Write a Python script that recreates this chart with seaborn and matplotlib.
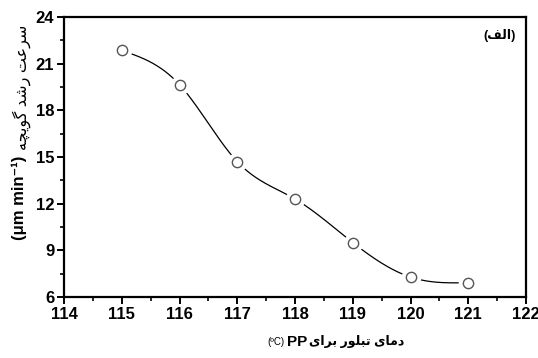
import numpy as np
import pandas as pd
import matplotlib
matplotlib.use("Agg")
import matplotlib.pyplot as plt
import seaborn as sns
from matplotlib.ticker import MultipleLocator

# ---- data ----
temps = [115, 116, 117, 118, 119, 120, 121]
rates = [21.85, 19.65, 14.7, 12.3, 9.5, 7.28, 6.92]
x_ticks = [114, 115, 116, 117, 118, 119, 120, 121, 122]
y_ticks = [6, 9, 12, 15, 18, 21, 24]

ylabel_fa = "سرعت رشد گویچه"
ylabel_unit = "(μm min⁻¹)"
xlabel_fa = "دمای تبلور برای"
xlabel_pp = "PP"
xlabel_unit = "(ºC)"
panel_fa = "الف"

# ---- minimal Persian shaping (presentation forms, visual order) ----
FORMS = {
    'ا': ('\uFE8D', '\uFE8E', None, None),
    'ب': ('\uFE8F', '\uFE90', '\uFE91', '\uFE92'),
    'ت': ('\uFE95', '\uFE96', '\uFE97', '\uFE98'),
    'د': ('\uFEA9', '\uFEAA', None, None),
    'ر': ('\uFEAD', '\uFEAE', None, None),
    'س': ('\uFEB1', '\uFEB2', '\uFEB3', '\uFEB4'),
    'ش': ('\uFEB5', '\uFEB6', '\uFEB7', '\uFEB8'),
    'ع': ('\uFEC9', '\uFECA', '\uFECB', '\uFECC'),
    'ف': ('\uFED1', '\uFED2', '\uFED3', '\uFED4'),
    'ل': ('\uFEDD', '\uFEDE', '\uFEDF', '\uFEE0'),
    'م': ('\uFEE1', '\uFEE2', '\uFEE3', '\uFEE4'),
    'ه': ('\uFEE9', '\uFEEA', '\uFEEB', '\uFEEC'),
    'و': ('\uFEED', '\uFEEE', None, None),
    'ی': ('\uFBFC', '\uFBFD', '\uFBFE', '\uFBFF'),
    'گ': ('\uFB92', '\uFB93', '\uFB94', '\uFB95'),
    'چ': ('\uFB7A', '\uFB7B', '\uFB7C', '\uFB7D'),
}


def shape(s):
    out = []
    for i, c in enumerate(s):
        if c not in FORMS:
            out.append(c)
            continue
        prev = s[i - 1] if i > 0 else None
        nxt = s[i + 1] if i + 1 < len(s) else None
        jp = prev in FORMS and FORMS[prev][2] is not None
        jn = FORMS[c][2] is not None and nxt in FORMS
        iso, fin, ini, med = FORMS[c]
        if jp and jn:
            out.append(med)
        elif jp:
            out.append(fin)
        elif jn:
            out.append(ini)
        else:
            out.append(iso)
    return ''.join(reversed(out))


# ---- natural cubic spline through the data (smooth connecting curve) ----
def natural_spline(x, y, num=400):
    x = np.asarray(x, float)
    y = np.asarray(y, float)
    n = len(x)
    h = np.diff(x)
    A = np.zeros((n, n))
    b = np.zeros(n)
    A[0, 0] = A[-1, -1] = 1
    for i in range(1, n - 1):
        A[i, i - 1] = h[i - 1]
        A[i, i] = 2 * (h[i - 1] + h[i])
        A[i, i + 1] = h[i]
        b[i] = 6 * ((y[i + 1] - y[i]) / h[i] - (y[i] - y[i - 1]) / h[i - 1])
    M = np.linalg.solve(A, b)
    xs = np.linspace(x[0], x[-1], num)
    idx = np.clip(np.searchsorted(x, xs) - 1, 0, n - 2)
    x0, x1 = x[idx], x[idx + 1]
    hh = x1 - x0
    t0 = x1 - xs
    t1 = xs - x0
    ys = (M[idx] * t0 ** 3 + M[idx + 1] * t1 ** 3) / (6 * hh) \
        + (y[idx] / hh - M[idx] * hh / 6) * t0 \
        + (y[idx + 1] / hh - M[idx + 1] * hh / 6) * t1
    return xs, ys


sns.set_theme(style="white")
plt.rcParams['font.family'] = ['Liberation Sans', 'DejaVu Sans']

fig = plt.figure(figsize=(5.38, 3.58), dpi=100)
ax = fig.add_axes([64 / 538, 1 - 297 / 358, (526 - 64) / 538, (297 - 17) / 358])

xs, ys = natural_spline(temps, rates)
curve = pd.DataFrame({"T": xs, "G": ys})
pts = pd.DataFrame({"T": temps, "G": rates})

sns.lineplot(data=curve, x="T", y="G", ax=ax, color="black", linewidth=0.9, zorder=2)
# white halo around markers to create the gaps
sns.scatterplot(data=pts, x="T", y="G", ax=ax, s=200, color="white",
                edgecolor="white", linewidth=0, zorder=3)
sns.scatterplot(data=pts, x="T", y="G", ax=ax, s=55, color="white",
                edgecolor="#555555", linewidth=1.0, zorder=4)

ax.set_xlim(114, 122)
ax.set_ylim(6, 24)
ax.set_xticks(x_ticks)
ax.set_yticks(y_ticks)
ax.xaxis.set_minor_locator(MultipleLocator(0.5))
ax.yaxis.set_minor_locator(MultipleLocator(1.5))
ax.set_xlabel("")
ax.set_ylabel("")

for sp in ax.spines.values():
    sp.set_color("black")
    sp.set_linewidth(1.6)

ax.tick_params(axis='both', which='major', direction='out', length=5, width=1.4,
               color='black', labelsize=12, pad=2, bottom=True, left=True,
               top=False, right=False)
ax.tick_params(axis='both', which='minor', direction='out', length=3, width=1.2,
               color='black', bottom=True, left=True, top=False, right=False)
for lab in ax.get_xticklabels() + ax.get_yticklabels():
    lab.set_fontweight('bold')
    lab.set_color('black')

# y label (two parts, rotated)
fig.text(22 / 538, 1 - 150 / 358, shape(ylabel_fa), rotation=90, ha='center',
         va='bottom', fontsize=11.5, color='black')
fig.text(19 / 538, 1 - 240 / 358, ylabel_unit, rotation=90, ha='center',
         va='bottom', fontsize=12, fontweight='bold', color='black')

# x label
fig.text(284 / 538, 1 - 342 / 358, xlabel_unit, ha='right', va='center',
         fontsize=7, color='black')
fig.text(287 / 538, 1 - 342 / 358, xlabel_pp, ha='left',
         va='center', fontsize=11, fontweight='bold', color='black')
fig.text(309 / 538, 1 - 341 / 358, shape(xlabel_fa), ha='left',
         va='center', fontsize=9, fontweight='bold', color='black')

# panel label
ax.text(500 / 538, 1 - 35 / 358, "(" + shape(panel_fa) + ")", transform=fig.transFigure,
        ha='center', va='center', fontsize=9, fontweight='bold', color='black')

fig.savefig("out.png", dpi=100, facecolor="white")
